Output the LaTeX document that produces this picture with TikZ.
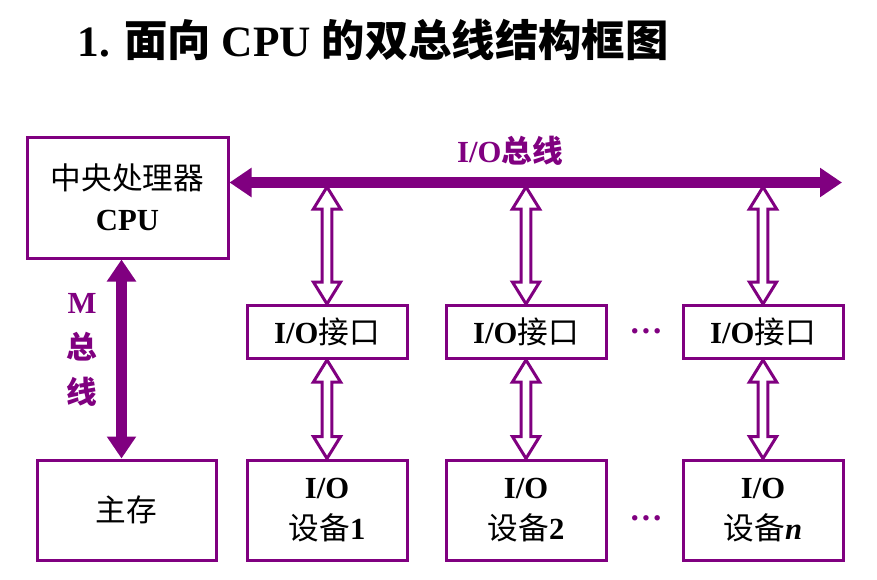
\documentclass[tikz,border=0pt]{standalone}
\usepackage{fontspec}
\setmainfont{Liberation Serif}
\newfontfamily\cjk{Noto Sans CJK SC}
\newcommand\zh[1]{{\cjk #1}}
\usetikzlibrary{arrows.meta,calc,backgrounds}
\definecolor{ppl}{RGB}{128,0,128}
\tikzset{
  box/.style={rectangle,draw=ppl,fill=white,line width=2.25pt,inner sep=0pt,align=center,
    font=\fontsize{23}{31}\selectfont},
  bus/.style={draw=ppl,line width=8.25pt,
    {Triangle[length=16.5pt,width=21pt]}-{Triangle[length=16.5pt,width=21pt]}},
  hol/.style={draw=ppl,fill=white,line width=2.25pt},
  blab/.style={text=ppl,align=center,font=\bfseries\fontsize{23}{34}\selectfont},
  dts/.style={text=ppl,font=\bfseries\fontsize{25}{30}\selectfont},
  ttl/.style={font=\bfseries\fontsize{32.5}{38}\selectfont},
}
% hollow two-headed arrow from an upper point down to a lower point
\newcommand\hollow[2]{%
  \draw[hol] let \p1=(#1), \p2=(#2) in
    (\x1,\y1) -- (\x1+10.2pt,\y1-16.5pt) -- (\x1+3.6pt,\y1-16.5pt)
    -- (\x1+3.6pt,\y2+16.5pt) -- (\x1+10.2pt,\y2+16.5pt) -- (\x1,\y2)
    -- (\x1-10.2pt,\y2+16.5pt) -- (\x1-3.6pt,\y2+16.5pt)
    -- (\x1-3.6pt,\y1-16.5pt) -- (\x1-10.2pt,\y1-16.5pt) -- cycle;}
\begin{document}
\begin{tikzpicture}[x=0.75pt,y=-0.75pt]
\useasboundingbox (0,0) rectangle (877,579);
\node[ttl] (title) at (373,40) {1. \zh{面向} CPU \zh{的双总线结构框图}};
% ---- CPU and main memory
\node[box,minimum width=150.75pt,minimum height=90.75pt] (cpu) at (127.5,197.5)
  {\zh{中央处理器}\\\textbf{CPU}};
\node[box,minimum width=134.25pt,minimum height=75pt] (mem) at (126.5,510) {\zh{主存}};
\draw[bus] ([xshift=-4.5pt]cpu.south) -- ([xshift=-4.5pt]cpu.south |- mem.north);
\node[blab] (mlab) at (82,350) {M\\\zh{总}\\\zh{线}};
% ---- I/O bus
\coordinate (busR) at (842,182.5);
\coordinate (busB) at (0,187);
\draw[bus] (cpu.east |- busR) -- (busR);
\node[blab] (iolab) at (510,151) {I/O\zh{总线}};
% ---- interfaces and devices
\node[box,minimum width=120pt,minimum height=39.75pt] (if1) at (327,332) {\textbf{I/O}\zh{接口}};
\node[box,minimum width=120pt,minimum height=39.75pt] (if2) at (526,332) {\textbf{I/O}\zh{接口}};
\node[box,minimum width=120pt,minimum height=39.75pt] (if3) at (763,332) {\textbf{I/O}\zh{接口}};
\node[box,minimum width=120pt,minimum height=75pt] (dev1) at (327,510) {\textbf{I/O}\\\zh{设备}\textbf{1}};
\node[box,minimum width=120pt,minimum height=75pt] (dev2) at (526,510) {\textbf{I/O}\\\zh{设备}\textbf{2}};
\node[box,minimum width=120pt,minimum height=75pt] (dev3) at (763,510) {\textbf{I/O}\\\zh{设备}\textbf{\textit{n}}};
\node[dts] (d1) at (646,331) {…};
\node[dts] (d2) at (646,518) {…};
\begin{scope}[on background layer]
  \hollow{if1.north |- busB}{if1.north}
  \hollow{if2.north |- busB}{if2.north}
  \hollow{if3.north |- busB}{if3.north}
  \hollow{if1.south}{dev1.north}
  \hollow{if2.south}{dev2.north}
  \hollow{if3.south}{dev3.north}
\end{scope}
\end{tikzpicture}
\end{document}
